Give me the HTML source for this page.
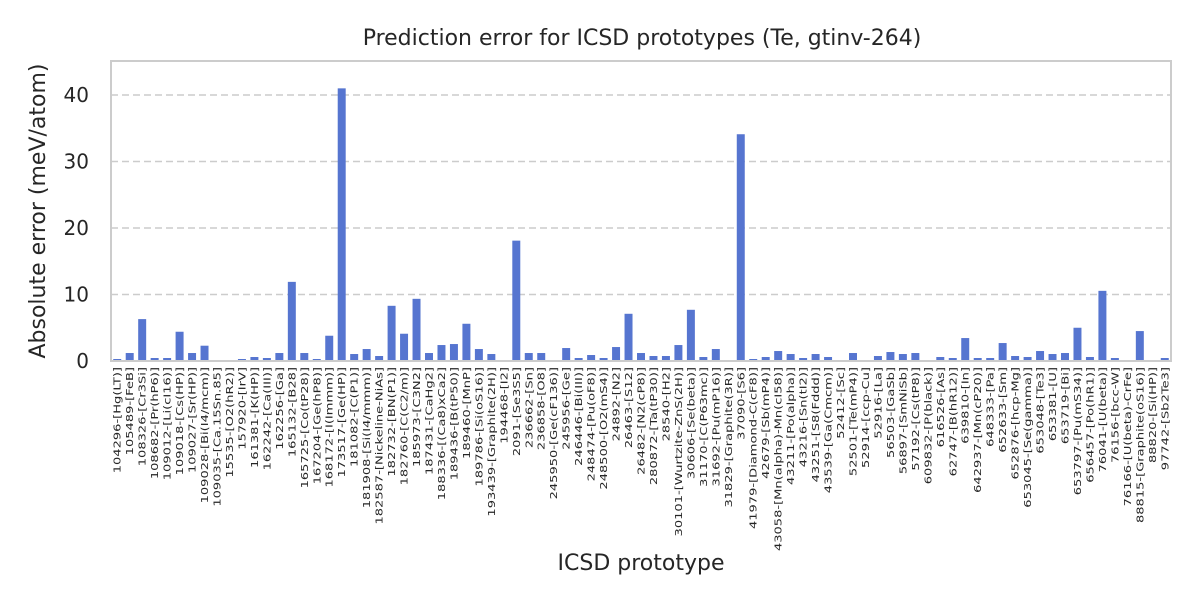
<!DOCTYPE html>
<html><head><meta charset="utf-8"><style>
body{margin:0;background:#fff}
svg{display:block;font-family:"DejaVu Sans","Liberation Sans",sans-serif}
</style></head><body>
<svg id="chart" width="1200" height="600">
<rect width="1200" height="600" fill="#fff"/>
<text x="642" y="45" text-anchor="middle" font-size="22" fill="#262626">Prediction error for ICSD prototypes (Te, gtinv-264)</text>
<g id="grid"></g><g id="bars"></g><g id="yticks"></g><g id="xticks"></g>
<rect x="111" y="61" width="1060" height="300" fill="none" stroke="#cccccc" stroke-width="2"/>
<text transform="translate(45,211) rotate(-90)" text-anchor="middle" font-size="22" fill="#262626">Absolute error (meV/atom)</text>
<text x="641" y="570" text-anchor="middle" font-size="22" fill="#262626">ICSD prototype</text>
</svg>
<script>
const categories=["104296-[Hg(LT)]","105489-[FeB]","108326-[Cr3Si]","108682-[Pr(hP6)]","109012-[Li(cI16)]","109018-[Cs(HP)]","109027-[Sr(HP)]","109028-[Bi(I4/mcm)]","109035-[Ca.15Sn.85]","15535-[O2(hR2)]","157920-[IrV]","161381-[K(HP)]","162242-[Ca(III)]","162256-[Ga]","165132-[B28]","165725-[Co(tP28)]","167204-[Ge(hP8)]","168172-[I(Immm)]","173517-[Ge(HP)]","181082-[C(P1)]","181908-[Si(I4/mmm)]","182587-[Nickeline-NiAs]","182732-[BN(P1)]","182760-[C(C2/m)]","185973-[C3N2]","187431-[CaHg2]","188336-[(Ca8)xCa2]","189436-[B(tP50)]","189460-[MnP]","189786-[Si(oS16)]","193439-[Graphite(2H)]","194468-[I2]","2091-[Se3S5]","236662-[Sn]","236858-[O8]","245950-[Ge(cF136)]","245956-[Ge]","246446-[Bi(III)]","248474-[Pu(oF8)]","248500-[O2(mS4)]","24892-[N2]","26463-[S12]","26482-[N2(cP8)]","280872-[Ta(tP30)]","28540-[H2]","30101-[Wurtzite-ZnS(2H)]","30606-[Se(beta)]","31170-[C(P63mc)]","31692-[Pu(mP16)]","31829-[Graphite(3R)]","37090-[S6]","41979-[Diamond-C(cF8)]","42679-[Sb(mP4)]","43058-[Mn(alpha)-Mn(cI58)]","43211-[Po(alpha)]","43216-[Sn(tI2)]","43251-[S8(Fddd)]","43539-[Ga(Cmcm)]","52412-[Sc]","52501-[Te(mP4)]","52914-[ccp-Cu]","52916-[La]","56503-[GaSb]","56897-[SmNiSb]","57192-[Cs(tP8)]","609832-[P(black)]","616526-[As]","62747-[B(hR12)]","639810-[In]","642937-[Mn(cP20)]","648333-[Pa]","652633-[Sm]","652876-[hcp-Mg]","653045-[Se(gamma)]","653048-[Te3]","653381-[U]","653719-[Bi]","653797-[Pu(mS34)]","656457-[Po(hR1)]","76041-[U(beta)]","76156-[bcc-W]","76166-[U(beta)-CrFe]","88815-[Graphite(oS16)]","88820-[Si(HP)]","97742-[Sb2Te3]"];
const errors=[0.3,1.2,6.3,0.45,0.45,4.4,1.2,2.3,0.15,0,0.3,0.6,0.45,1.2,11.9,1.2,0.3,3.8,41.0,1.05,1.8,0.75,8.3,4.1,9.35,1.2,2.4,2.55,5.6,1.8,1.05,0,18.1,1.2,1.2,0,1.95,0.45,0.9,0.45,2.1,7.1,1.2,0.75,0.75,2.4,7.7,0.6,1.8,0,34.1,0.3,0.6,1.5,1.05,0.45,1.05,0.6,0.15,1.2,0.15,0.75,1.35,1.05,1.2,0.15,0.6,0.45,3.45,0.45,0.45,2.7,0.75,0.6,1.5,1.05,1.2,5.0,0.6,10.55,0.45,0,4.5,0,0.45];
const yTicks=[0,10,20,30,40];
const NS="http://www.w3.org/2000/svg";
const L=111,R=1171,B=361,T=61;
const band=(R-L)/categories.length;
const x=i=>L+band*(i+0.5);
const y=v=>B-v*6.65;
const grid=document.getElementById('grid'),bars=document.getElementById('bars'),yt=document.getElementById('yticks'),xt=document.getElementById('xticks');
yTicks.forEach(t=>{
 if(t>0){const l=document.createElementNS(NS,'line');
 
 
 l.setAttribute('x1',L);l.setAttribute('x2',R);l.setAttribute('y1',y(t));l.setAttribute('y2',y(t));
 l.setAttribute('stroke','#cccccc');l.setAttribute('stroke-width','1.6');l.setAttribute('stroke-dasharray','7,4');grid.appendChild(l);}
 const s=document.createElementNS(NS,'text');
 
 
 s.setAttribute('x',89);s.setAttribute('y',y(t)+7);s.setAttribute('text-anchor','end');s.setAttribute('font-size','20');s.setAttribute('fill','#262626');
 s.textContent=t;yt.appendChild(s);
});
categories.forEach((c,i)=>{
 const r=document.createElementNS(NS,'rect');
 
 
 const w=band*0.64;
 r.setAttribute('x',x(i)-w/2);r.setAttribute('width',w);r.setAttribute('y',y(errors[i]));r.setAttribute('height',B-y(errors[i]));
 r.setAttribute('fill','#5675d0');bars.appendChild(r);
 const s=document.createElementNS(NS,'text');
 
 
 s.setAttribute('transform','translate('+(x(i)+3.5)+',367) rotate(-90) scale(1.45,1.05)');
 s.setAttribute('text-anchor','end');s.setAttribute('font-size','9');s.setAttribute('fill','#262626');
 s.textContent=c;xt.appendChild(s);
});
</script>
</body></html>
